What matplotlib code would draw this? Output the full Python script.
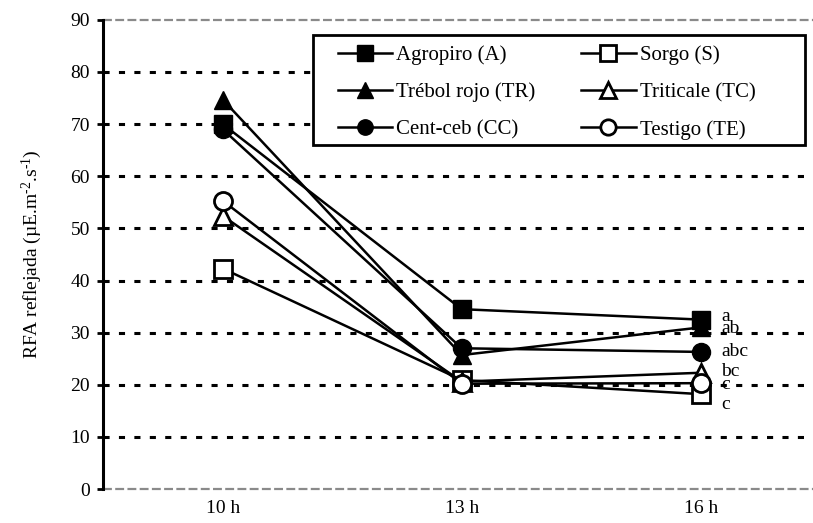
import matplotlib
matplotlib.use("Agg")
import matplotlib.pyplot as plt
from matplotlib.patches import Rectangle

plt.rcParams["font.family"] = ["Liberation Serif", "DejaVu Serif"]
plt.rcParams["mathtext.fontset"] = "custom"
plt.rcParams["mathtext.rm"] = "Liberation Serif"
plt.rcParams["mathtext.it"] = "Liberation Serif:italic"

# data
horas = ["10 h", "13 h", "16 h"]
agropiro = [70.0, 34.5, 32.5]
sorgo = [42.3, 20.9, 18.2]
trebol = [74.7, 25.7, 31.0]
triticale = [52.4, 20.6, 22.3]
centceb = [69.0, 27.0, 26.3]
testigo = [55.3, 20.2, 20.3]

letras = ["a", "ab", "abc", "bc", "c", "c"]
letras_y = [33.0, 30.7, 26.4, 22.5, 20.1, 16.2]

x = list(range(len(horas)))

fig = plt.figure(figsize=(8.13, 5.23), dpi=100)
ax = fig.add_axes([0.127, 0.065, 0.873, 0.897])

lw = 1.8
ms = 13
# drawing order picked so overlaps look like the original
l_tr, = ax.plot(x, trebol, color="black", lw=lw, marker="^", ms=ms,
                mfc="black", mec="black", label="Trébol rojo (TR)", zorder=3)
l_a, = ax.plot(x, agropiro, color="black", lw=lw, marker="s", ms=ms,
               mfc="black", mec="black", label="Agropiro (A)", zorder=4)
l_cc, = ax.plot(x, centceb, color="black", lw=lw, marker="o", ms=ms,
                mfc="black", mec="black", label="Cent-ceb (CC)", zorder=4)
l_s, = ax.plot(x, sorgo, color="black", lw=lw, marker="s", ms=ms,
               mfc="white", mec="black", mew=2, label="Sorgo (S)", zorder=3)
l_tc, = ax.plot(x, triticale, color="black", lw=lw, marker="^", ms=ms,
                mfc="white", mec="black", mew=2, label="Triticale (TC)", zorder=3)
l_te, = ax.plot(x, testigo, color="black", lw=lw, marker="o", ms=ms,
                mfc="white", mec="black", mew=2, label="Testigo (TE)", zorder=5)

# letras de significancia
for txt, yy in zip(letras, letras_y):
    ax.annotate(txt, xy=(x[-1], yy), xytext=(15, 0), textcoords="offset points",
                fontsize=14, va="center", ha="left")

# grid
for g in range(10, 90, 10):
    ax.axhline(g, color="black", lw=2.2, dashes=(2.0, 3.05), zorder=1)
ax.axhline(90, color="#8a8a8a", lw=1.6, dashes=(4, 1.5), zorder=1, clip_on=False)
ax.axhline(0, color="#8a8a8a", lw=1.6, dashes=(4, 1.5), zorder=1, clip_on=False)

ax.set_xlim(-0.5, 2.47)
ax.set_ylim(0, 90)
ax.set_yticks(range(0, 91, 10))
ax.set_xticks(x)
ax.set_xticklabels(horas)
ax.tick_params(axis="y", direction="out", length=4.5, width=2, labelsize=14, pad=5)
ax.tick_params(axis="x", length=0, labelsize=14, pad=8)

for s in ["top", "right", "bottom"]:
    ax.spines[s].set_visible(False)
ax.spines["left"].set_linewidth(2.2)

ax.set_ylabel(r"RFA reflejada (µE.m$^{\text{-}2}$.s$^{\text{-}1}$)", fontsize=14, labelpad=19)

# legend box (wider padding on the right, like the original)
caja = Rectangle((0.2955, 0.733), 0.6932, 0.235, transform=ax.transAxes,
                 facecolor="white", edgecolor="black", lw=2, zorder=6)
ax.add_patch(caja)
leg = ax.legend(handles=[l_a, l_tr, l_cc, l_s, l_tc, l_te], ncol=2,
                loc="upper left", bbox_to_anchor=(0.3307, 0.946),
                fontsize=15, frameon=False, borderpad=0, borderaxespad=0,
                handlelength=2.6, handletextpad=0.2, columnspacing=2.2,
                labelspacing=0.85, markerscale=0.85)
leg.set_zorder(7)

fig.savefig("out.png", dpi=100)
